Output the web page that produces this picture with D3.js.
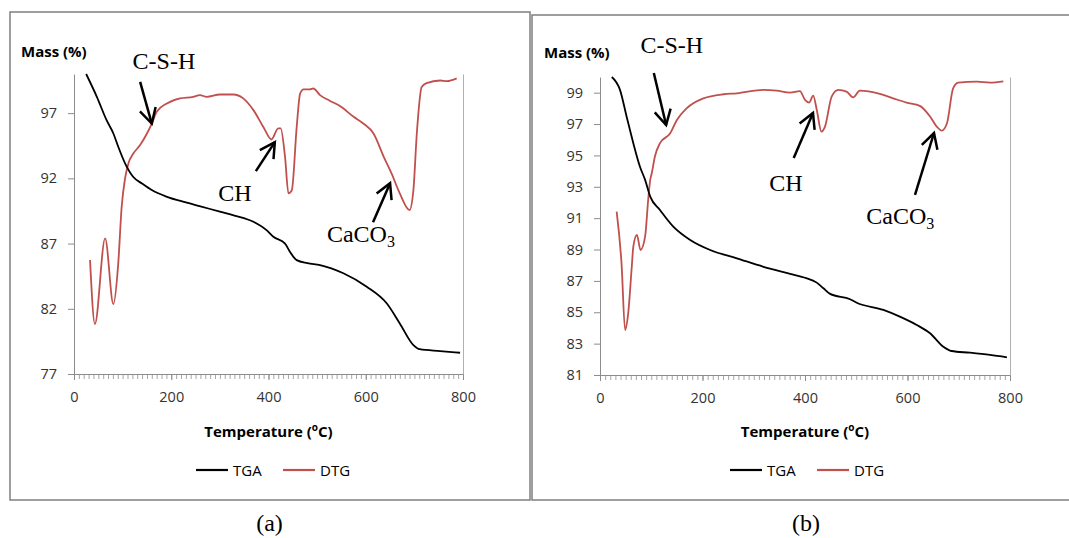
<!DOCTYPE html>
<html>
<head>
<meta charset="utf-8">
<script src="https://cdn.jsdelivr.net/npm/d3@7"></script>
<style>
  body { margin: 0; background: #fff; }
  svg { display: block; }
</style>
</head>
<body>
<svg id="chart" width="1069" height="538"></svg>
<script>
// values: temperature (°C) vs mass (%)
const tgaA_T = [25, 47, 67, 81, 91, 105, 122, 140, 160, 190, 230, 260, 300, 330, 370, 396, 410, 434, 444, 458, 480, 506, 554, 602, 643, 670, 698, 711, 753, 794];
const tgaA_M = [100, 98.25, 96.46, 95.44, 94.42, 93.15, 92.1, 91.6, 91.1, 90.6, 90.15, 89.85, 89.45, 89.15, 88.65, 88.03, 87.52, 87.0, 86.37, 85.73, 85.5, 85.35, 84.72, 83.69, 82.42, 80.88, 79.22, 78.9, 78.76, 78.63];

const dtgA_T = [33, 43, 64, 81, 91, 98, 105, 112, 122, 136, 150, 160, 170, 191, 218, 245, 259, 273, 300, 328, 348, 369, 390, 406, 420, 425, 434, 441, 448, 458, 465, 472, 485, 492, 506, 526, 547, 575, 595, 616, 637, 653, 670, 690, 698, 705, 715, 725, 753, 767, 787];
const dtgA_M = [85.74, 80.83, 87.4, 82.36, 85.48, 89.8, 92.0, 93.15, 93.9, 94.55, 95.44, 96.2, 97.1, 97.74, 98.13, 98.25, 98.38, 98.25, 98.43, 98.43, 98.13, 97.23, 95.9, 94.98, 95.83, 95.83, 93.65, 90.85, 91.1, 95.95, 98.5, 98.82, 98.82, 98.89, 98.38, 97.95, 97.54, 96.72, 96.21, 95.44, 93.65, 92.38, 90.85, 89.57, 91.1, 95.44, 99.0, 99.3, 99.5, 99.45, 99.66];

const tgaB_T = [23, 39, 52, 65, 78, 88, 98, 117, 143, 176, 215, 267, 319, 371, 400, 423, 436, 449, 488, 501, 553, 585, 618, 644, 670, 686, 722, 761, 794];
const tgaB_M = [100, 99.18, 97.47, 95.78, 94.28, 93.44, 92.37, 91.52, 90.46, 89.61, 88.97, 88.44, 87.9, 87.45, 87.2, 86.89, 86.53, 86.17, 85.83, 85.61, 85.15, 84.72, 84.19, 83.66, 82.8, 82.53, 82.42, 82.28, 82.13];

const dtgB_T = [32.5, 42, 49, 55, 62, 65, 72, 79, 88, 94, 98, 101, 107, 117, 137, 150, 169, 202, 241, 267, 319, 345, 371, 390, 400, 408, 416, 423, 432, 439, 452, 465, 481, 494, 507, 546, 572, 598, 624, 644, 657, 667, 677, 689, 699, 735, 761, 787];
const dtgB_M = [91.41, 88.12, 83.87, 84.93, 87.9, 89.18, 89.93, 88.97, 89.82, 92.16, 93.44, 93.86, 94.92, 95.78, 96.41, 97.26, 98.0, 98.64, 98.9, 98.96, 99.18, 99.13, 99.0, 99.1, 98.54, 98.37, 98.81, 97.9, 96.52, 96.84, 98.75, 99.18, 99.07, 98.7, 99.13, 98.92, 98.64, 98.37, 98.16, 97.48, 96.84, 96.58, 97.05, 99.28, 99.64, 99.7, 99.64, 99.72];

const xTicks = [0, 200, 400, 600, 800];
const yTicksA = [77, 82, 87, 92, 97];
const yTicksB = [81, 83, 85, 87, 89, 91, 93, 95, 97, 99];

// peak labels and arrows, in data units [T, mass]
const notesA = [
  { label: "C-S-H", at: [185, 100.4], from: [136, 99.4], to: [160, 96.2] },
  { label: "CH", at: [331, 90.25], from: [374, 92.55], to: [413, 94.78] },
  { label: "CaCO", sub: "3", at: [590, 87.1], from: [615, 88.64], to: [650, 91.63] }
];
const notesB = [
  { label: "C-S-H", at: [140, 101.5], from: [105, 100.26], to: [129, 96.94] },
  { label: "CH", at: [363, 92.73], from: [378, 94.84], to: [415.6, 97.71] },
  { label: "CaCO", sub: "3", at: [586, 90.63], from: [614.6, 92.48], to: [651.7, 96.43] }
];

const panels = [
  { frame: [10, 12, 520, 488], left: 74, right: 463, top: 74, bottom: 374,
    yDomain: [77, 100], yTicks: yTicksA,
    tga: [tgaA_T, tgaA_M], dtg: [dtgA_T, dtgA_M], notes: notesA,
    massX: 21, massY: 57, legendX: 196, caption: "(a)" },
  { frame: [532, 15, 560, 485], left: 600, right: 1010, top: 77, bottom: 375,
    yDomain: [81, 100], yTicks: yTicksB,
    tga: [tgaB_T, tgaB_M], dtg: [dtgB_T, dtgB_M], notes: notesB,
    massX: 544, massY: 58, legendX: 730, caption: "(b)" }
];

const svg = d3.select("#chart");
const sans = "'Open Sans', sans-serif";
const serif = "'Liberation Serif', 'Times New Roman', serif";
const axisGrey = "#8c8c8c";

panels.forEach(p => {
  const g = svg.append("g");

  // outer frame of the chart object
  g.append("rect")
    .attr("x", p.frame[0]).attr("y", p.frame[1])
    .attr("width", p.frame[2]).attr("height", p.frame[3])
    .attr("fill", "none").attr("stroke", "#7f7f7f").attr("stroke-width", 1.5);

  const x = d3.scaleLinear().domain([0, 800]).range([p.left, p.right]);
  const y = d3.scaleLinear().domain(p.yDomain).range([p.bottom, p.top]);

  // minor ticks on x
  g.append("g")
    .attr("transform", `translate(0,${p.bottom})`)
    .call(d3.axisBottom(x).tickValues(d3.range(0, 801, 10)).tickSize(5).tickFormat(""))
    .call(a => a.select(".domain").remove())
    .call(a => a.selectAll("line").attr("stroke", "#a6a6a6"));

  // major x axis
  g.append("g")
    .attr("transform", `translate(0,${p.bottom})`)
    .call(d3.axisBottom(x).tickValues(xTicks).tickSize(6).tickSizeOuter(0).tickPadding(12))
    .call(a => a.select(".domain").attr("stroke", axisGrey))
    .call(a => a.selectAll("line").attr("stroke", axisGrey))
    .call(a => a.selectAll("text").attr("font-family", sans).attr("font-size", 14.5).attr("fill", "#333"));

  // y axis
  g.append("g")
    .attr("transform", `translate(${p.left},0)`)
    .call(d3.axisLeft(y).tickValues(p.yTicks).tickSize(6).tickSizeOuter(0).tickPadding(11))
    .call(a => a.select(".domain").attr("stroke", axisGrey))
    .call(a => a.selectAll("line").attr("stroke", axisGrey))
    .call(a => a.selectAll("text").attr("font-family", sans).attr("font-size", 14.5).attr("fill", "#333"));

  // unlabeled secondary axis on the right
  g.append("g")
    .attr("transform", `translate(${p.right},0)`)
    .call(d3.axisRight(y).tickValues([]).tickSizeOuter(0))
    .call(a => a.select(".domain").attr("stroke", "#b0b0b0"));

  const line = d3.line().x(d => x(d[0])).y(d => y(d[1])).curve(d3.curveMonotoneX);

  g.append("path")
    .datum(d3.zip(p.dtg[0], p.dtg[1]))
    .attr("d", line).attr("fill", "none")
    .attr("stroke", "#c0504d").attr("stroke-width", 1.8);

  g.append("path")
    .datum(d3.zip(p.tga[0], p.tga[1]))
    .attr("d", line).attr("fill", "none")
    .attr("stroke", "#000").attr("stroke-width", 1.8);

  // axis titles
  g.append("text")
    .attr("x", p.massX).attr("y", p.massY)
    .attr("font-family", sans).attr("font-size", 15).attr("font-weight", "bold")
    .attr("fill", "#000").text("Mass (%)");

  const tt = g.append("text")
    .attr("x", (p.left + p.right) / 2).attr("y", 437)
    .attr("text-anchor", "middle")
    .attr("font-family", sans).attr("font-size", 15).attr("font-weight", "bold");
  tt.append("tspan").text("Temperature (");
  tt.append("tspan").attr("font-size", 10).attr("dy", -6).text("o");
  tt.append("tspan").attr("dy", 6).text("C)");

  // annotations
  p.notes.forEach(n => {
    const t = g.append("text")
      .attr("x", x(n.at[0])).attr("y", y(n.at[1]))
      .attr("text-anchor", "middle")
      .attr("font-family", serif).attr("font-size", 24).attr("fill", "#000");
    t.append("tspan").text(n.label);
    if (n.sub) t.append("tspan").attr("font-size", 16).attr("dy", 5).text(n.sub);

    const x0 = x(n.from[0]), y0 = y(n.from[1]);
    const x1 = x(n.to[0]), y1 = y(n.to[1]);
    const ang = Math.atan2(y0 - y1, x0 - x1);
    const len = 17, spread = 0.5;
    const head = [-spread, spread].map(s => [x1 + len * Math.cos(ang + s), y1 + len * Math.sin(ang + s)]);
    g.append("line")
      .attr("x1", x0).attr("y1", y0).attr("x2", x1).attr("y2", y1)
      .attr("stroke", "#000").attr("stroke-width", 2.5);
    g.append("path")
      .attr("d", `M${head[0][0]},${head[0][1]}L${x1},${y1}L${head[1][0]},${head[1][1]}`)
      .attr("fill", "none").attr("stroke", "#000").attr("stroke-width", 2.5);
  });

  // legend
  const legend = [["TGA", "#000"], ["DTG", "#c0504d"]];
  legend.forEach((l, i) => {
    const lx = p.legendX + i * 87;
    g.append("line")
      .attr("x1", lx).attr("x2", lx + 32).attr("y1", 470).attr("y2", 470)
      .attr("stroke", l[1]).attr("stroke-width", 2.2);
    g.append("text")
      .attr("x", lx + 37).attr("y", 475.5)
      .attr("font-family", sans).attr("font-size", 15).attr("fill", "#000")
      .text(l[0]);
  });

  // caption under the frame
  g.append("text")
    .attr("x", (p.left + p.right) / 2 + 1).attr("y", 531)
    .attr("text-anchor", "middle")
    .attr("font-family", serif).attr("font-size", 24).attr("fill", "#000")
    .text(p.caption);
});
</script>
</body>
</html>
